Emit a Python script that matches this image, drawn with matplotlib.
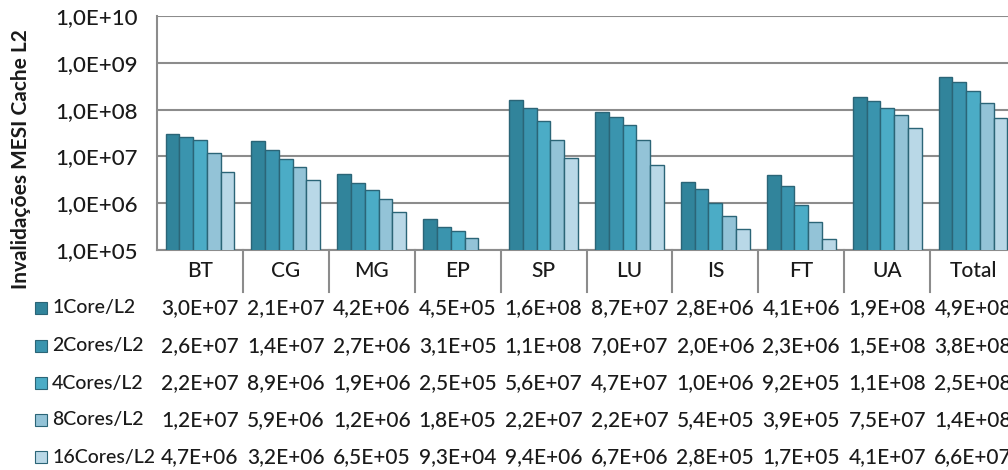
import numpy as np
import matplotlib.pyplot as plt
from matplotlib.transforms import blended_transform_factory
from matplotlib.patches import Rectangle

plt.rcParams['font.family'] = ['Lato', 'DejaVu Sans']
plt.rcParams['font.weight'] = 'medium'

categories = ['BT', 'CG', 'MG', 'EP', 'SP', 'LU', 'IS', 'FT', 'UA', 'Total']
series_names = ['1Core/L2', '2Cores/L2', '4Cores/L2', '8Cores/L2', '16Cores/L2']
core1 = [3.0e7, 2.1e7, 4.2e6, 4.5e5, 1.6e8, 8.7e7, 2.8e6, 4.1e6, 1.9e8, 4.9e8]
cores2 = [2.6e7, 1.4e7, 2.7e6, 3.1e5, 1.1e8, 7.0e7, 2.0e6, 2.3e6, 1.5e8, 3.8e8]
cores4 = [2.2e7, 8.9e6, 1.9e6, 2.5e5, 5.6e7, 4.7e7, 1.0e6, 9.2e5, 1.1e8, 2.5e8]
cores8 = [1.2e7, 5.9e6, 1.2e6, 1.8e5, 2.2e7, 2.2e7, 5.4e5, 3.9e5, 7.5e7, 1.4e8]
cores16 = [4.7e6, 3.2e6, 6.5e5, 9.3e4, 9.4e6, 6.7e6, 2.8e5, 1.7e5, 4.1e7, 6.6e7]
colors = ['#31849b', '#3a94ae', '#4bacc6', '#93c3d7', '#b9d8e7']

W, H = 1008, 470
fig = plt.figure(figsize=(W / 100, H / 100), dpi=100)
ax = fig.add_axes([157 / W, 1 - 250 / H, 859 / W, 234 / H])

series = [core1, cores2, cores4, cores8, cores16]
x = np.arange(len(categories))
bw = 0.16
for i, vals in enumerate(series):
    ax.bar(x + (i - 2) * bw, vals, bw, color=colors[i], edgecolor='#2b6577',
           linewidth=1.0, zorder=3)

ax.set_yscale('log')
ax.set_ylim(1e5, 1e10)
ax.set_xlim(-0.5, len(categories) - 0.5)
ax.set_yticks([1e5, 1e6, 1e7, 1e8, 1e9, 1e10])
ax.set_yticklabels(['1,0E+05', '1,0E+06', '1,0E+07', '1,0E+08', '1,0E+09', '1,0E+10'])
ax.minorticks_off()
ax.set_xticks([])
ax.tick_params(axis='y', length=0, pad=14, labelsize=16, labelcolor='#1a1a1a')
ax.grid(axis='y', color='#8c8c8c', linewidth=1.5, zorder=0)
for s in ['top', 'right']:
    ax.spines[s].set_visible(False)
for s in ['left', 'bottom']:
    ax.spines[s].set_color('#8c8c8c')
    ax.spines[s].set_linewidth(1.5)

# y label placed in figure pixels
fig.text(21 / W, 1 - 159 / H, 'Invalidações MESI Cache L2', rotation=90,
         ha='center', va='center', fontsize=15, fontweight='bold', color='#1a1a1a')

# data table under the chart
tr = blended_transform_factory(ax.transData, fig.transFigure)
for k in range(len(categories) - 1):
    ax.plot([k + 0.5, k + 0.5], [1 - 250 / H, 1 - 292 / H], transform=tr,
            color='#8c8c8c', linewidth=1.5, clip_on=False)
for k, c in enumerate(categories):
    ax.text(k, 1 - 271 / H, c, transform=tr, ha='center', va='center',
            fontsize=15, color='#1a1a1a')

row_y = [308, 346, 383, 420, 457]
for i, vals in enumerate(series):
    yy = 1 - row_y[i] / H
    fig.patches.append(Rectangle((35 / W, yy - 6 / H), 12 / W, 12 / H,
                                 transform=fig.transFigure, facecolor=colors[i],
                                 edgecolor='#2b6577', linewidth=0.8))
    fig.text(52 / W, yy, series_names[i], ha='left', va='center',
             fontsize=14, color='#1a1a1a')
    for k, v in enumerate(vals):
        m, e = f'{v:.1E}'.split('E')
        label = m.replace('.', ',') + 'E' + e
        ax.text(k, yy, label, transform=tr, ha='center', va='center',
                fontsize=15, color='#1a1a1a')

fig.savefig('out.png', dpi=100)
